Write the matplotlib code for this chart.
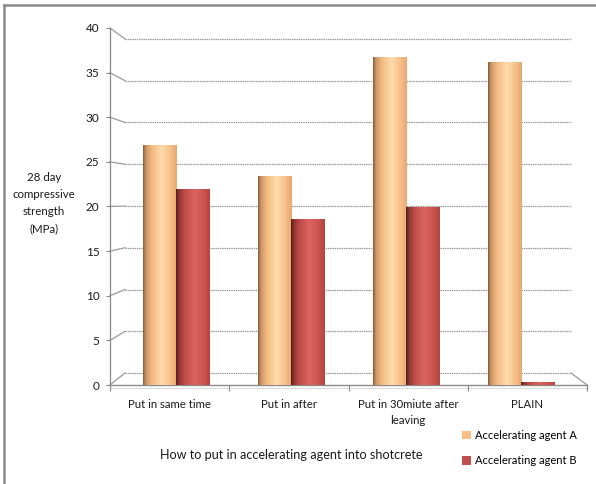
import matplotlib
matplotlib.use('Agg')
import matplotlib.pyplot as plt
import numpy as np
from matplotlib.colors import LinearSegmentedColormap
from matplotlib.lines import Line2D
import matplotlib.transforms as mtransforms

# ---------------- data ----------------
categories = ["Put in same time", "Put in after", "Put in 30miute after\nleaving", "PLAIN"]
series_names = ["Accelerating agent A", "Accelerating agent B"]
agent_a = [26.9, 23.4, 36.7, 36.2]
agent_b = [22.0, 18.6, 19.9, 0.3]
y_ticks = [0, 5, 10, 15, 20, 25, 30, 35, 40]
x_title = "How to put in accelerating agent into shotcrete"
y_title = "28 day\ncompressive\nstrength\n(MPa)"

plt.rcParams['font.family'] = ['Lato', 'DejaVu Sans']

W, H = 596, 484
fig = plt.figure(figsize=(W / 100, H / 100), dpi=100)
fig.patch.set_facecolor('white')


def fx(px):
    return px / W


def fy(py):
    return 1 - py / H


frame_c = '#8a8a8a'
grid_c = '#9a9a9a'
text_c = '#1a1a1a'

# outer chart frame (clipped at right / bottom like the reference)
fig.add_artist(Line2D([fx(4), fx(4)], [fy(5), fy(490)], color=frame_c, lw=1.8))
fig.add_artist(Line2D([fx(4), 1.01], [fy(5), fy(5)], color=frame_c, lw=1.8))

# axes placed on the front (0..40) scale
ax_left, ax_right, ax_top, ax_bot = 110, 587, 28, 385
ax = fig.add_axes([fx(ax_left), fy(ax_bot), (ax_right - ax_left) / W, (ax_bot - ax_top) / H])
ax.set_xlim(-0.5, len(categories) - 0.5)
ax.set_ylim(0, 40)
ax.patch.set_visible(False)
for s in ['top', 'right', 'bottom']:
    ax.spines[s].set_visible(False)
ax.spines['left'].set_color(frame_c)
ax.spines['left'].set_linewidth(0.9)

# pseudo-3D back wall geometry (pixels)
back_x0, back_x1 = 125, 571
back_y0, back_y40 = 373, 39
bx0 = (back_x0 - ax_left) / (ax_right - ax_left)
bx1 = (back_x1 - ax_left) / (ax_right - ax_left)
front_scale = (ax_bot - ax_top) / 40.0


def back_val(t):
    py = back_y0 - t * (back_y0 - back_y40) / 40.0
    return (ax_bot - py) / front_scale


blend = mtransforms.blended_transform_factory(ax.transAxes, ax.transData)
for t in y_ticks:
    bv = back_val(t)
    ax.plot([0, bx0], [t, bv], transform=blend, color=grid_c, lw=0.9, zorder=1, clip_on=False)
    ax.plot([bx0, bx1], [bv, bv], transform=blend, color=grid_c, lw=0.9,
            ls=(0, (1.2, 0.6)), zorder=1, clip_on=False)

# floor
b0 = back_val(0)
ax.plot([bx1, 1.0], [b0, 0], transform=blend, color=grid_c, lw=0.9, zorder=1, clip_on=False)
ax.plot([0, 1.0], [0, 0], transform=blend, color=frame_c, lw=1.0, zorder=1, clip_on=False)
ax.plot([0, 1.0], [-0.35, -0.35], transform=blend, color='#c8c8c8', lw=0.8,
        ls=(0, (1.2, 0.6)), zorder=1, clip_on=False)
ax.plot([1.0, 1.0], [0, -0.6], transform=blend, color=grid_c, lw=0.9, zorder=1, clip_on=False)

# ticks
ax.set_yticks(y_ticks)
ax.tick_params(axis='y', direction='out', length=3, width=0.8, color=frame_c,
               labelsize=8.5, pad=4.5, labelcolor=text_c)
ax.set_xticks(range(len(categories)))
ax.set_xticklabels(categories, fontsize=8.2, color=text_c, linespacing=1.6)
ax.tick_params(axis='x', length=0, pad=9.8)
ax.set_xticks([i + 0.5 for i in range(-1, len(categories) - 1)] + [len(categories) - 0.5], minor=True)
ax.tick_params(axis='x', which='minor', direction='out', length=4, width=0.8, color=frame_c)

# cylinders (gradient-shaded bars)
cmap_a = LinearSegmentedColormap.from_list('a', [
    (0.0, '#7a5a3c'), (0.08, '#c99462'), (0.25, '#f2b880'), (0.55, '#ffdcae'),
    (0.8, '#f8c08a'), (1.0, '#e6a973')])
cmap_b = LinearSegmentedColormap.from_list('b', [
    (0.0, '#4e1b1a'), (0.08, '#8e3432'), (0.25, '#bd4c49'), (0.55, '#dc6561'),
    (0.8, '#cc5451'), (1.0, '#b24541')])

n = len(categories)
depth_shrink = 0.964
depth_shift = 0.053
centers = np.arange(n) * depth_shrink + depth_shift
width = 0.277

bars_a = ax.bar(centers - width / 2, agent_a, width=width, color='#f9be8a',
                edgecolor='none', zorder=3, label=series_names[0])
bars_b = ax.bar(centers + width / 2, agent_b, width=width, color='#c0504d',
                edgecolor='none', zorder=3, label=series_names[1])

grad = np.linspace(0, 1, 256).reshape(1, -1)
for bars, cm in ((bars_a, cmap_a), (bars_b, cmap_b)):
    for p in bars:
        x0, y0 = p.get_x(), p.get_y()
        im = ax.imshow(grad, cmap=cm, extent=[x0, x0 + p.get_width(), y0, y0 + p.get_height()],
                       aspect='auto', zorder=3.5, interpolation='bicubic')
        im.set_clip_path(p)

ax.set_xlim(-0.5, n - 0.5)
ax.set_ylim(0, 40)

# titles
fig.text(fx(291), fy(455), x_title, ha='center', va='center', fontsize=9.1, color=text_c)
fig.text(fx(44), fy(203), y_title, ha='center', va='center', fontsize=8.3, color=text_c,
         linespacing=1.7)

# legend
fig.legend(handles=[bars_a, bars_b], labels=series_names, loc='upper left',
           bbox_to_anchor=(fx(462), fy(430)), frameon=False, fontsize=8,
           handlelength=0.8, handleheight=0.8, handletextpad=0.35,
           labelspacing=1.3, borderaxespad=0, borderpad=0)

fig.savefig('out.png', dpi=100, facecolor='white')
